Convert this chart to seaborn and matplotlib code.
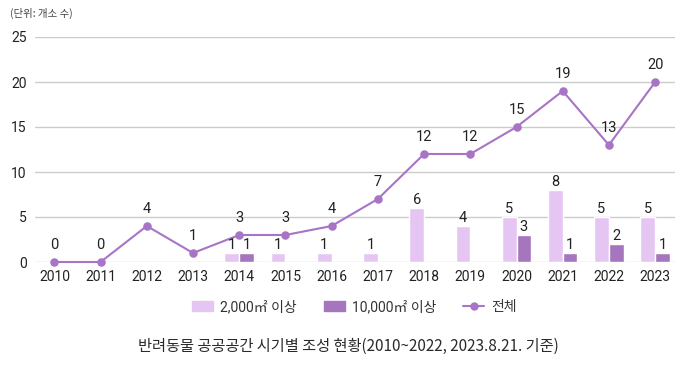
import matplotlib
matplotlib.use("Agg")
import matplotlib.pyplot as plt
import seaborn as sns
import pandas as pd
from matplotlib.patches import Patch
from matplotlib.lines import Line2D

years = ["2010", "2011", "2012", "2013", "2014", "2015", "2016",
         "2017", "2018", "2019", "2020", "2021", "2022", "2023"]
over_2000 = [0, 0, 0, 0, 1, 1, 1, 1, 6, 4, 5, 8, 5, 5]
over_10000 = [0, 0, 0, 0, 1, 0, 0, 0, 0, 0, 3, 1, 2, 1]
total = [0, 0, 4, 1, 3, 3, 4, 7, 12, 12, 15, 19, 13, 20]
series_names = ["2,000㎡ 이상", "10,000㎡ 이상", "전체"]

FAM = ["Roboto", "Noto Sans CJK KR", "DejaVu Sans"]
KFAM = ["Noto Sans CJK KR", "DejaVu Sans"]
sns.set_theme(style="white")
plt.rcParams["font.family"] = FAM

light = "#E5C6F3"
dark = "#A575BD"
linec = "#A774C6"
txt = "#222222"

df = pd.DataFrame({
    "year": years * 2,
    "value": over_2000 + over_10000,
    "kind": [series_names[0]] * len(years) + [series_names[1]] * len(years),
})
df_tot = pd.DataFrame({"year": years, "value": total})

fig = plt.figure(figsize=(7.0, 3.68), dpi=100)
ax = fig.add_axes([35 / 700, 1 - 262 / 368, 640 / 700, 225 / 368])

sns.barplot(data=df, x="year", y="value", hue="kind", order=years,
            hue_order=series_names[:2], palette=[light, dark], width=0.64,
            saturation=1, legend=False, ax=ax, errorbar=None)
for cont in ax.containers:
    labels = [f"{int(b.get_height())}" if b.get_height() > 0 else "" for b in cont]
    ax.bar_label(cont, labels=labels, padding=1, fontsize=10.5, color=txt)

sns.pointplot(data=df_tot, x="year", y="value", order=years, color=linec,
              markers="o", markersize=5, linewidth=1.5, ax=ax, errorbar=None)
for line in ax.lines:
    line.set_clip_on(False)
for i, v in enumerate(total):
    ax.annotate(str(v), (i, v), xytext=(0, 7), textcoords="offset points",
                ha="center", va="bottom", fontsize=10.5, color=txt)

ax.set_xlim(-0.42, 13.43)
ax.set_ylim(0, 25)
ax.set_yticks([0, 5, 10, 15, 20, 25])
ax.yaxis.grid(True, color="#cccccc", linewidth=1)
ax.set_axisbelow(True)
for s in ax.spines.values():
    s.set_visible(False)
ax.set_xlabel("")
ax.set_ylabel("")
ax.tick_params(axis="both", length=0, labelsize=10, colors=txt)
ax.tick_params(axis="x", pad=6)
ax.tick_params(axis="y", pad=6)

handles = [Patch(color=light), Patch(color=dark),
           Line2D([0], [0], color=linec, marker="o", markersize=5, linewidth=1.5)]
fig.legend(handles, series_names, loc="center", bbox_to_anchor=(354.5 / 700, 1 - 307 / 368),
           ncol=3, frameon=False, fontsize=10, columnspacing=1.95, handlelength=1.5,
           handletextpad=0.5, labelcolor="#333333")

fig.text(10 / 700, 1 - 13 / 368, "(단위: 개소 수)", fontsize=7.5, color="#444444",
         va="center", ha="left", family=KFAM)
fig.text(348 / 700, 1 - 346 / 368,
         "반려동물 공공공간 시기별 조성 현황(2010~2022, 2023.8.21. 기준)",
         fontsize=11, fontweight="medium", color="#2a2a2a", ha="center", va="center",
         family=KFAM)

fig.savefig("out.png", dpi=100)
